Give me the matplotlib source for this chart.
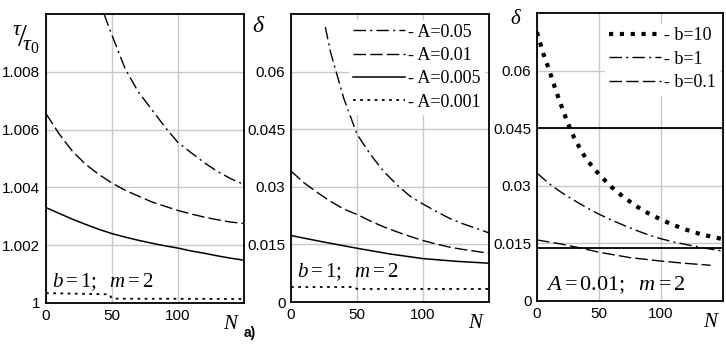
import matplotlib.pyplot as plt
import numpy as np

plt.rcParams['mathtext.fontset'] = 'custom'
plt.rcParams['mathtext.rm'] = 'Liberation Serif'
plt.rcParams['mathtext.it'] = 'Liberation Serif:italic'

# panel 1: tau/tau0 vs N
n1_a05 = [44, 48, 54, 60, 70, 80, 90, 100, 110, 120, 130, 140, 150]
t_a05 = [1.0100, 1.0095, 1.0088, 1.0081, 1.0073, 1.0067, 1.0061, 1.00555, 1.0052, 1.00485, 1.00455, 1.0043, 1.0041]
n1_a01 = [0, 10, 20, 30, 40, 50, 60, 70, 80, 90, 100, 110, 120, 130, 140, 150]
t_a01 = [1.00655, 1.00585, 1.00525, 1.0048, 1.00445, 1.00415, 1.0039, 1.0037, 1.0035, 1.00335, 1.0032, 1.00308, 1.00297, 1.00288, 1.0028, 1.00275]
n1_a005 = [0, 10, 20, 30, 40, 50, 60, 70, 80, 90, 100, 110, 120, 130, 140, 150]
t_a005 = [1.0033, 1.0031, 1.0029, 1.00272, 1.00255, 1.0024, 1.00228, 1.00217, 1.00207, 1.00198, 1.0019, 1.0018, 1.00172, 1.00163, 1.00155, 1.00148]
n1_a001 = [0, 25, 48, 50, 150]
t_a001 = [1.00034, 1.00032, 1.0003, 1.00015, 1.00014]

# panel 2: delta vs N (b=1, m=2)
n2_a05 = [26, 30, 35, 40, 50, 60, 70, 80, 90, 100, 110, 120, 130, 140, 150]
d_a05 = [0.0716, 0.065, 0.059, 0.053, 0.0437, 0.0385, 0.0341, 0.0306, 0.0276, 0.0255, 0.0236, 0.0218, 0.0204, 0.0192, 0.018]
n2_a01 = [0, 10, 20, 30, 40, 50, 60, 70, 80, 90, 100, 110, 120, 130, 140, 150]
d_a01 = [0.0341, 0.031, 0.0285, 0.0262, 0.0242, 0.0228, 0.0211, 0.0196, 0.0183, 0.0171, 0.016, 0.0151, 0.0143, 0.0137, 0.0132, 0.0127]
n2_a005 = [0, 25, 50, 75, 100, 125, 150]
d_a005 = [0.0173, 0.0156, 0.014, 0.0125, 0.0113, 0.0106, 0.0101]
n2_a001 = [0, 48, 50, 150]
d_a001 = [0.0039, 0.0039, 0.0034, 0.0034]

# panel 3: delta vs N (A=0.01, m=2)
n3_b10 = [0, 5, 10, 15, 20, 25, 30, 35, 40, 50, 60, 70, 80, 90, 100, 110, 120, 130, 140, 150]
d_b10 = [0.07, 0.0645, 0.06, 0.055, 0.0505, 0.0462, 0.0425, 0.0395, 0.0368, 0.033, 0.0297, 0.027, 0.0247, 0.0228, 0.0212, 0.0198, 0.0186, 0.0176, 0.0168, 0.0161]
n3_b1 = [0, 10, 20, 30, 40, 50, 60, 70, 80, 90, 100, 110, 120, 130, 140, 150]
d_b1 = [0.0333, 0.0305, 0.0282, 0.0262, 0.0243, 0.0226, 0.0211, 0.0197, 0.0184, 0.0172, 0.0162, 0.0154, 0.0147, 0.0141, 0.0135, 0.013]
n3_b01 = [0, 20, 35, 50, 75, 100, 120, 140]
d_b01 = [0.0159, 0.0148, 0.0138, 0.0127, 0.0113, 0.0104, 0.0098, 0.0093]
hlines3 = [0.045, 0.0138]

xticks = [0, 50, 100]
yticks1 = [1, 1.002, 1.004, 1.006, 1.008]
ylabels1 = ['1', '1.002', '1.004', '1.006', '1.008']
yticks2 = [0, 0.015, 0.03, 0.045, 0.06]
ylabels2 = ['0', '0.015', '0.03', '0.045', '0.06']

dashdot = (0, (9, 3, 1.5, 3))
dashed = (0, (9, 3))
dotted = (0, (1.5, 2.5))
sq_dot = (0, (1, 1.6))

fig = plt.figure(figsize=(7.26, 3.44), dpi=100)
ax1 = fig.add_axes([46/726, 1-303/344, 198/726, 289/344])
ax2 = fig.add_axes([291/726, 1-302/344, 198/726, 288/344])
ax3 = fig.add_axes([537/726, 1-301/344, 186/726, 288/344])

tick_font = {'family': 'Liberation Sans', 'size': 11}
serif = 'Liberation Serif'

for ax in (ax1, ax2, ax3):
    ax.set_xlim(0, 150)
    ax.set_xticks(xticks)
    ax.set_xticklabels(['0', '50', '100'], fontdict=tick_font)
    ax.grid(True, color='#c8c8c8', lw=1)
    ax.set_axisbelow(True)
    ax.tick_params(length=0, pad=4)
    for s in ax.spines.values():
        s.set_linewidth(1.3)
    ax.text(0.93, -0.04, 'N', transform=ax.transAxes, ha='center', va='top',
            family=serif, style='italic', fontsize=15)

lc = 'black'
leg_kw = dict(loc='upper right', frameon=True, fancybox=False, edgecolor='white',
              framealpha=1, handlelength=2.9, handletextpad=0.15,
              labelspacing=0.35, borderpad=0.2, prop={'family': serif, 'size': 13})

ax1.plot(n1_a05, t_a05, color=lc, lw=1, ls=dashdot)
ax1.plot(n1_a01, t_a01, color=lc, lw=1, ls=dashed)
ax1.plot(n1_a005, t_a005, color=lc, lw=1.1)
ax1.plot(n1_a001, t_a001, color=lc, lw=1.3, ls=dotted)
ax1.set_ylim(1, 1.01)
ax1.set_yticks(yticks1)
ax1.set_yticklabels(ylabels1, fontdict=tick_font)
ax1.text(0.03, 0.073, r'$b = 1;\ \ m = 2$', transform=ax1.transAxes,
         fontsize=15, ha='left', va='center')
fig.text(26/726, 1-40/344, r'${}^{\tau}\!/\!{}_{\tau_0}$', fontsize=23, ha='center', va='center')

ax2.plot(n2_a05, d_a05, color=lc, lw=1, ls=dashdot, label='- A=0.05')
ax2.plot(n2_a01, d_a01, color=lc, lw=1, ls=dashed, label='- A=0.01')
ax2.plot(n2_a005, d_a005, color=lc, lw=1.1, label='- A=0.005')
ax2.plot(n2_a001, d_a001, color=lc, lw=1.3, ls=dotted, label='- A=0.001')
ax2.set_ylim(0, 0.075)
ax2.set_yticks(yticks2)
ax2.set_yticklabels(ylabels2, fontdict=tick_font)
ax2.text(0.03, 0.104, r'$b = 1;\ \ m = 2$', transform=ax2.transAxes,
         fontsize=15, ha='left', va='center')
fig.text(258/726, 1-27/344, 'δ', family=serif, style='italic', fontsize=17, ha='center', va='center')
ax2.legend(bbox_to_anchor=(0.985, 0.985), borderaxespad=0.1, **leg_kw)

ax3.plot(n3_b10, d_b10, color=lc, lw=3, ls=sq_dot, label='- b=10')
ax3.plot(n3_b1, d_b1, color=lc, lw=1, ls=dashdot, label='- b=1')
ax3.plot(n3_b01, d_b01, color=lc, lw=1, ls=dashed, label='- b=0.1')
for h in hlines3:
    ax3.axhline(h, color=lc, lw=1.3)
ax3.set_ylim(0, 0.075)
ax3.set_yticks(yticks2)
ax3.set_yticklabels(ylabels2, fontdict=tick_font)
ax3.text(0.05, 0.056, r'$A = 0.01;\ \ m = 2$', transform=ax3.transAxes,
         fontsize=16, ha='left', va='center')
fig.text(515/726, 1-20/344, 'δ', family=serif, style='italic', fontsize=15, ha='center', va='center')
ax3.legend(bbox_to_anchor=(1.0, 0.975), borderaxespad=0.2, **leg_kw)

fig.text(250/726, 1-333/344, 'a)', family='Liberation Sans', weight='bold', fontsize=10,
         ha='center', va='center')

fig.savefig('out.png', dpi=100)
